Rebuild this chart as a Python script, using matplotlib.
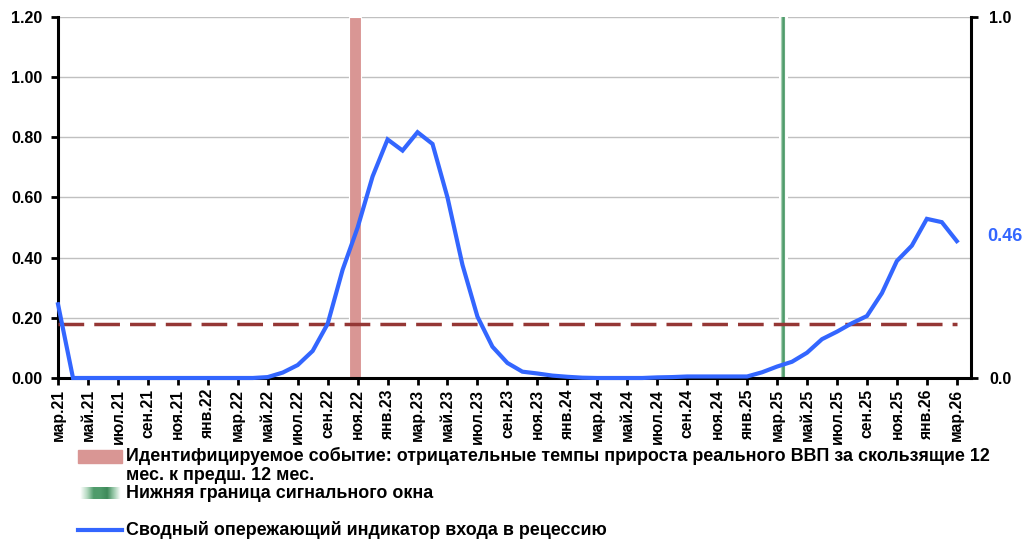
import matplotlib
matplotlib.use('Agg')
import matplotlib.pyplot as plt
import matplotlib.patches as patches
from matplotlib.lines import Line2D
import numpy as np

plt.rcParams['font.family'] = ['Liberation Sans', 'DejaVu Sans']
plt.rcParams['font.weight'] = 'bold'

# monthly categories, мар.21 .. мар.26
month_names = ['янв', 'фев', 'мар', 'апр', 'май', 'июн',
               'июл', 'авг', 'сен', 'окт', 'ноя', 'дек']
months = []
for year in range(21, 27):
    for m in month_names:
        months.append('{}.{}'.format(m, year))
months = months[2:63]

# сводный опережающий индикатор (левая ось)
indicator = [
    0.245, 0.0, 0.0, 0.0, 0.0, 0.0, 0.0, 0.0, 0.0, 0.0,
    0.0, 0.0, 0.0, 0.0, 0.003, 0.018, 0.043, 0.09, 0.18, 0.36,
    0.50, 0.67, 0.793, 0.756, 0.817, 0.778, 0.60, 0.376, 0.204, 0.104,
    0.05, 0.021, 0.015, 0.008, 0.004, 0.001, 0.0, 0.0, 0.0, 0.0,
    0.002, 0.003, 0.005, 0.005, 0.005, 0.005, 0.005, 0.019, 0.038, 0.054,
    0.084, 0.129, 0.154, 0.182, 0.206, 0.282, 0.389, 0.44, 0.529, 0.518,
    0.455,
]
threshold = 0.18
event_month = 'ноя.22'
signal_month = 'мар.25'
last_label = '0.46'

blue = '#3366FF'
pink = '#D99694'
green = '#4F9B6B'
darkred = '#953735'

x = np.arange(len(months))

fig = plt.figure(figsize=(10.27, 5.41), dpi=100)
ax = fig.add_axes([0.0565, 0.3013, 0.889, 0.6673])

ax.set_ylim(0, 1.2)
ax.set_xlim(0, 60.95)
ax.set_yticks(np.arange(0, 1.21, 0.2))
ax.set_yticklabels(['{:.2f}'.format(v) for v in np.arange(0, 1.21, 0.2)])
ax.yaxis.grid(True, color='#C0C0C0', lw=1.0, zorder=0)
ax.set_axisbelow(True)

# identified event (bar)
ev = months.index(event_month)
ax.bar(ev - 0.17, 1.2, width=0.75, color=pink, edgecolor='white', lw=0.8, zorder=2)

# signal window lower bound
sg = months.index(signal_month)
ax.axvline(sg + 0.38, color='white', lw=6.5, zorder=2)
ax.axvline(sg + 0.38, color='#A8D0B5', lw=3.0, zorder=2)
ax.axvline(sg + 0.38, color=green, lw=1.8, zorder=2)

# threshold
ax.plot([x[0], x[-1]], [threshold, threshold], color=darkred, lw=2.5,
        dashes=(7.4, 2.9), zorder=3)

ax.plot(x, indicator, color=blue, lw=3.0, zorder=4, clip_on=False,
        solid_joinstyle='miter')

ax.set_xticks(x[::2])
ax.set_xticklabels(months[::2], rotation=90, fontsize=11.3, fontweight='bold')
for lab in ax.get_yticklabels():
    lab.set_fontsize(11.5)
    lab.set_fontweight('bold')

ax.tick_params(axis='y', direction='out', length=5, width=2, pad=6)
ax.tick_params(axis='x', direction='out', length=5, width=2, pad=3)

for side in ['left', 'bottom']:
    ax.spines[side].set_linewidth(2.2)
ax.spines['top'].set_visible(False)
ax.spines['right'].set_visible(False)

ax2 = ax.twinx()
ax2.set_ylim(0, 1.0)
ax2.set_yticks([0.0, 1.0])
ax2.set_yticklabels(['0.0', '1.0'], fontsize=11.5, fontweight='bold')
ax2.tick_params(axis='y', direction='out', length=5, width=2, pad=8)
ax2.spines['right'].set_linewidth(2.2)
for side in ['left', 'bottom', 'top']:
    ax2.spines[side].set_visible(False)

ax.annotate(last_label, xy=(x[-1], indicator[-1]), xytext=(22, 3),
            textcoords='offset points', color=blue, fontsize=13,
            fontweight='bold', va='center', ha='left', annotation_clip=False)

# legend (manual)
fs = 12.9
tx = 126 / 1027
fig.patches.append(patches.Rectangle((78 / 1027, 1 - 463 / 541), 44 / 1027, 13 / 541,
                                     transform=fig.transFigure, color=pink))
fig.text(tx, 1 - 456 / 541,
         'Идентифицируемое событие: отрицательные темпы прироста реального ВВП за скользящие 12',
         fontsize=fs, fontweight='bold', va='center', ha='left')
fig.text(tx, 1 - 476 / 541, 'мес. к предш. 12 мес.',
         fontsize=fs, fontweight='bold', va='center', ha='left')
gax = fig.add_axes([80 / 1027, 1 - 499 / 541, 40 / 1027, 12 / 541])
grad = np.linspace(0, 1, 64).reshape(1, -1)
gcmap = matplotlib.colors.LinearSegmentedColormap.from_list(
    'g', ['white', '#B5D9C1', green, green, '#3E8A5A', '#9CCBAD', 'white'])
gax.imshow(grad, aspect='auto', cmap=gcmap)
gax.axis('off')
fig.text(tx, 1 - 493 / 541, 'Нижняя граница сигнального окна',
         fontsize=fs, fontweight='bold', va='center', ha='left')
fig.lines.append(Line2D([78 / 1027, 122 / 1027], [1 - 530 / 541, 1 - 530 / 541],
                        transform=fig.transFigure, color=blue, lw=3.0))
fig.text(tx, 1 - 530 / 541, 'Сводный опережающий индикатор входа в рецессию',
         fontsize=fs, fontweight='bold', va='center', ha='left')

fig.savefig('out.png', dpi=100)
